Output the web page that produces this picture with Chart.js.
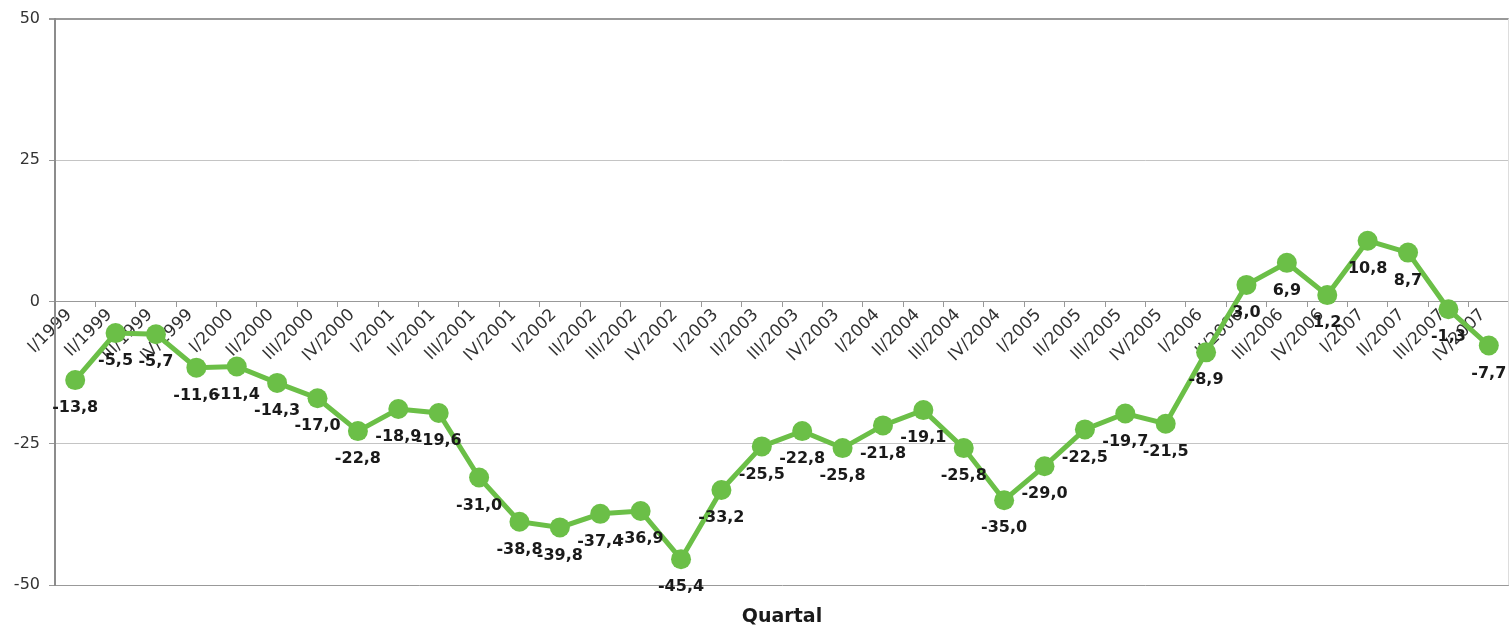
<!DOCTYPE html>
<html lang="de">
<head>
    <meta charset="UTF-8">
    <title>Quartal</title>
    <script src="https://cdn.jsdelivr.net/npm/chart.js"></script>
    <style>
        * {
            margin: 0;
            padding: 0;
            box-sizing: border-box;
        }

        body {
            background: #ffffff;
        }

        .chart-box {
            width: 1509px;
            height: 628px;
        }
    </style>
</head>
<body>
    <div class="chart-box">
        <canvas id="quartal-chart"></canvas>
    </div>

    <script>
        // Quartale I/1999 .. IV/2007
        const quartale = [
            'I/1999', 'II/1999', 'III/1999', 'IV/1999',
            'I/2000', 'II/2000', 'III/2000', 'IV/2000',
            'I/2001', 'II/2001', 'III/2001', 'IV/2001',
            'I/2002', 'II/2002', 'III/2002', 'IV/2002',
            'I/2003', 'II/2003', 'III/2003', 'IV/2003',
            'I/2004', 'II/2004', 'III/2004', 'IV/2004',
            'I/2005', 'II/2005', 'III/2005', 'IV/2005',
            'I/2006', 'II/2006', 'III/2006', 'IV/2006',
            'I/2007', 'II/2007', 'III/2007', 'IV/2007'
        ];

        const werte = [
            -13.8, -5.5, -5.7, -11.6,
            -11.4, -14.3, -17.0, -22.8,
            -18.9, -19.6, -31.0, -38.8,
            -39.8, -37.4, -36.9, -45.4,
            -33.2, -25.5, -22.8, -25.8,
            -21.8, -19.1, -25.8, -35.0,
            -29.0, -22.5, -19.7, -21.5,
            -8.9, 3.0, 6.9, 1.2,
            10.8, 8.7, -1.3, -7.7
        ];

        const yTicks = [-50, -25, 0, 25, 50];

        const gruen = '#6bbf47';

        // Werte unter die Punkte schreiben (mit Komma)
        const wertLabels = {
            id: 'wertLabels',
            afterDatasetsDraw(chart) {
                const ctx = chart.ctx;
                const meta = chart.getDatasetMeta(0);
                ctx.save();
                ctx.font = 'bold 16px "DejaVu Sans"';
                ctx.fillStyle = '#1a1a1a';
                ctx.textAlign = 'center';
                ctx.textBaseline = 'middle';
                meta.data.forEach((p, i) => {
                    const txt = werte[i].toFixed(1).replace('.', ',');
                    ctx.fillText(txt, p.x, p.y + 28);
                });
                ctx.restore();
            }
        };

        // rechter Rand der Zeichenfläche
        const rahmen = {
            id: 'rahmen',
            beforeDatasetsDraw(chart) {
                const { ctx, chartArea } = chart;
                ctx.save();
                ctx.strokeStyle = '#dddddd';
                ctx.lineWidth = 1;
                ctx.beginPath();
                ctx.moveTo(chartArea.right - 0.5, chartArea.top);
                ctx.lineTo(chartArea.right - 0.5, chartArea.bottom);
                ctx.stroke();
                ctx.restore();
            }
        };

        const ctx = document.getElementById('quartal-chart').getContext('2d');
        new Chart(ctx, {
            type: 'line',
            data: {
                labels: quartale,
                datasets: [{
                    data: werte,
                    borderColor: gruen,
                    backgroundColor: gruen,
                    borderWidth: 5,
                    pointRadius: 10,
                    pointHoverRadius: 10,
                    pointBorderWidth: 0,
                    pointBackgroundColor: gruen,
                    tension: 0,
                    fill: false,
                    clip: false
                }]
            },
            options: {
                responsive: true,
                maintainAspectRatio: false,
                animation: false,
                layout: {
                    autoPadding: false,
                    padding: { top: 17, right: 0, left: 0, bottom: 0 }
                },
                plugins: {
                    legend: { display: false },
                    tooltip: { enabled: false },
                    title: {
                        display: true,
                        text: 'Quartal',
                        position: 'bottom',
                        fullSize: false,
                        color: '#1a1a1a',
                        font: { family: 'DejaVu Sans', size: 19, weight: 'bold' },
                        padding: { top: 20, bottom: 0 }
                    }
                },
                scales: {
                    x: {
                        type: 'category',
                        offset: true,
                        position: { y: 0 },
                        afterFit: (s) => { s.paddingRight = 0; s.paddingLeft = 0; },
                        grid: {
                            display: true,
                            drawOnChartArea: false,
                            drawTicks: true,
                            tickLength: 5,
                            tickColor: '#999999',
                            offset: true
                        },
                        border: { color: '#999999', width: 1 },
                        ticks: {
                            autoSkip: false,
                            minRotation: 45,
                            maxRotation: 45,
                            padding: -2,
                            labelOffset: -6,
                            color: '#333333',
                            font: { family: 'DejaVu Sans', size: 17 }
                        }
                    },
                    y: {
                        min: -50,
                        max: 50,
                        afterFit: (s) => { s.width = 55; },
                        afterBuildTicks: (s) => { s.ticks = yTicks.map(v => ({ value: v })); },
                        grid: {
                            color: (c) => (c.tick && Math.abs(c.tick.value) === 50) ? '#999999' : '#c4c4c4',
                            lineWidth: (c) => (c.tick && c.tick.value === 50) ? 2 : 1,
                            tickLength: 6,
                            tickColor: '#999999'
                        },
                        border: { color: '#8c8c8c', width: 2 },
                        ticks: {
                            padding: 9,
                            color: '#333333',
                            font: { family: 'DejaVu Sans', size: 16 }
                        }
                    }
                }
            },
            plugins: [wertLabels, rahmen]
        });
    </script>
</body>
</html>
